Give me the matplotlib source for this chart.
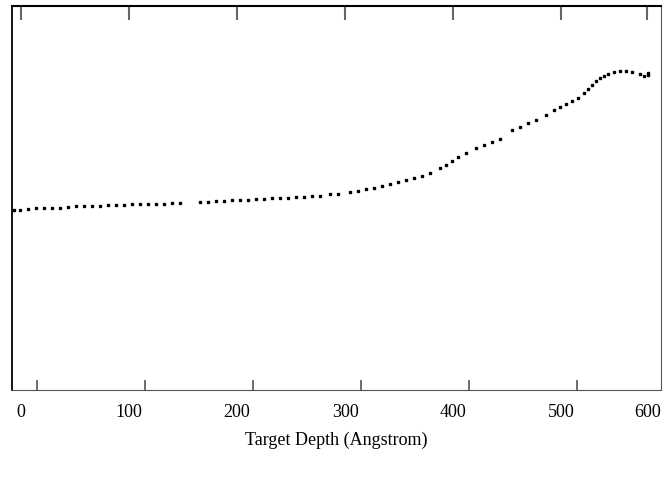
import matplotlib.pyplot as plt

# depth (Angstrom) and signal (arbitrary units) read along the profile
depth = [-6.5, -0.9, 6.5, 13.9, 21.3, 28.7, 36.1, 43.5, 50.9, 58.3, 65.7, 73.1,
         80.6, 88.0, 95.4, 102.8, 110.2, 117.6, 125.0, 132.4, 139.8, 147.2,
         165.7, 173.1, 180.6, 188.0, 195.4, 202.8, 210.2, 217.6, 225.0, 232.4,
         239.8, 247.2, 254.6, 262.0, 269.4, 276.9, 286.1, 293.5, 304.6, 312.0,
         319.4, 326.9, 334.3, 341.7, 349.1, 356.5, 363.9, 371.3, 378.7, 388.0,
         393.5, 399.1, 404.6, 412.0, 421.3, 428.7, 436.1, 443.5, 454.6, 462.0,
         469.4, 476.9, 486.1, 493.5, 499.1, 504.6, 510.2, 515.7, 521.3, 525.0,
         528.7, 532.4, 536.1, 539.8, 543.5, 549.1, 554.6, 560.2, 565.7, 573.1,
         576.9, 580.6, 580.6]
signal = [180, 180, 181, 182, 182, 182, 182, 183, 184, 184, 184, 184,
          185, 185, 185, 186, 186, 186, 186, 186, 187, 187,
          188, 188, 189, 189, 190, 190, 190, 191, 191, 192,
          192, 192, 193, 193, 194, 194, 196, 196, 198, 199,
          201, 202, 204, 206, 208, 210, 212, 214, 217, 222,
          225, 229, 233, 237, 242, 245, 248, 251, 260, 263,
          267, 270, 275, 280, 283, 286, 289, 292, 297, 301,
          305, 309, 312, 314, 316, 318, 319, 319, 318, 316,
          314, 315, 317]

tick_pos = [0, 100, 200, 300, 400, 500, 580]
tick_labels = ["0", "100", "200", "300", "400", "500", "600"]
inner_ticks = [14.5, 114.5, 214.5, 314.5, 414.5, 514.5]

plt.rcParams["font.family"] = ["Liberation Serif", "DejaVu Serif"]

fig = plt.figure(figsize=(6.65, 4.8), dpi=100)
ax = fig.add_axes([0.0176, 0.1875, 0.976, 0.8])

ax.plot(depth, signal, linestyle="none", marker="s", ms=1.5, color="black", mec="black")

ax.set_xlim(-8.6, 592.3)
ax.set_ylim(0, 384)
ax.set_yticks([])

ax.set_xticks(tick_pos)
ax.set_xticklabels(tick_labels, fontsize=13)
ax.tick_params(axis="x", which="major", length=0, pad=10)
ax.set_xticks(inner_ticks, minor=True)
ax.tick_params(axis="x", which="minor", direction="in", length=7, width=1.2, color="#555555")

top = ax.secondary_xaxis("top")
top.set_xticks(tick_pos)
top.set_xticklabels([])
top.tick_params(direction="in", length=10, width=1.5, color="#666666")
top.spines["top"].set_visible(False)

ax.spines["top"].set_linewidth(1.5)
ax.spines["left"].set_linewidth(1.3)
ax.spines["bottom"].set_color("#555555")
ax.spines["right"].set_color("#555555")

ax.set_xlabel("Target Depth (Angstrom)", fontsize=13, labelpad=8)

fig.savefig("out.png", dpi=100)
